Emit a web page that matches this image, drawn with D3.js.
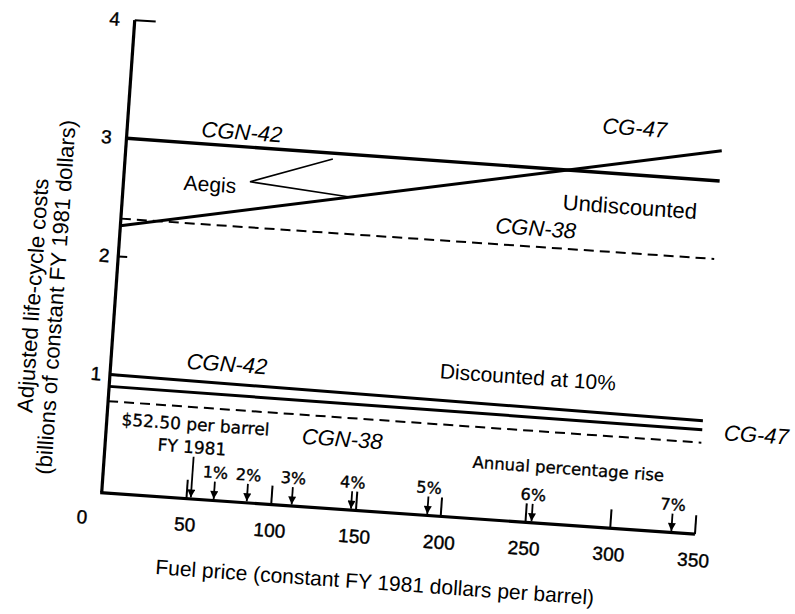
<!DOCTYPE html>
<html>
<head>
<meta charset="utf-8">
<script src="https://cdn.jsdelivr.net/npm/d3@7"></script>
<style>
  html, body { margin: 0; padding: 0; background: #fff; }
  svg { display: block; }
</style>
</head>
<body>
<svg id="chart" width="795" height="614"></svg>
<script>
// ---------- data ----------
const fuelPrice   = [0, 350];
const undiscCGN42 = [3.00, 2.99];
const undiscCG47  = [2.26, 3.245];
const undiscCGN38 = [2.32, 2.33];
const discCGN42   = [1.00, 0.96];
const discCG47    = [0.90, 0.885];
const discCGN38   = [0.775, 0.775];

const xTicks = [50, 100, 150, 200, 250, 300, 350];
const xTickLabels = ["50", "100", "150", "200", "250", "300", "350"];
const yTicks = [1, 2, 3, 4];
const yTickLabels = ["1", "2", "3", "4"];

const baseFuelPrice = 52.5;
const riseRates  = ["1%", "2%", "3%", "4%", "5%", "6%", "7%"];
const risePrices = [66, 85.5, 112, 147, 192, 253.5, 336];

// label anchors in data coordinates [fuel price, cost]
const curveLabels = [
  { text: "CGN-42", x: 67.5,  y: 3.12,  italic: true,  size: 22 },
  { text: "CG-47",  x: 298,   y: 3.386, italic: true,  size: 22 },
  { text: "CGN-38", x: 244,   y: 2.483, italic: true,  size: 22 },
  { text: "CGN-42", x: 68.3,  y: 1.158, italic: true,  size: 22 },
  { text: "CG-47",  x: 382,   y: 0.872, italic: true,  size: 22 },
  { text: "CGN-38", x: 139,   y: 0.594, italic: true,  size: 22 },
  { text: "Aegis",  x: 50.9,  y: 2.664, italic: false, size: 21 },
  { text: "Undiscounted", x: 298.4, y: 2.718, italic: false, size: 22 },
  { text: "Discounted at 10%", x: 245.5, y: 1.226, italic: false, size: 21 }
];
const aegisPointer = [[122, 2.947], [74.3, 2.707], [132.5, 2.638]];

// ---------- layout ----------
const svg = d3.select("#chart");
const originX = 101.7, originY = 492.7, tilt = 4;
const g = svg.append("g")
  .attr("transform", `translate(${originX},${originY}) rotate(${tilt})`);

const x = d3.scaleLinear().domain([0, 350]).range([0, 594.7]);
const y = d3.scaleLinear().domain([0, 4]).range([0, -473.7]);

const defs = svg.append("defs");
defs.append("marker")
  .attr("id", "head")
  .attr("viewBox", "0 0 10 10")
  .attr("refX", 10).attr("refY", 5)
  .attr("markerWidth", 9).attr("markerHeight", 8)
  .attr("markerUnits", "userSpaceOnUse")
  .attr("orient", "auto")
  .append("path").attr("d", "M0,0 L10,5 L0,10 Z").attr("fill", "#000");

const ink = "#000";
const sans = "Liberation Sans, Arial, sans-serif";
const smallFont = "DejaVu Sans, sans-serif";

// axes
g.append("line").attr("x1", 0).attr("y1", y(0)).attr("x2", 0).attr("y2", y(4))
  .attr("stroke", ink).attr("stroke-width", 3.2);
g.append("line").attr("x1", -1.5).attr("y1", y(0)).attr("x2", x(350)).attr("y2", y(0))
  .attr("stroke", ink).attr("stroke-width", 3.2);

// y ticks (inward)
g.selectAll(".ytick").data(yTicks).join("line")
  .attr("x1", 0).attr("x2", d => d === 4 ? 21 : 9)
  .attr("y1", d => y(d)).attr("y2", d => y(d))
  .attr("stroke", ink).attr("stroke-width", 2);

g.selectAll(".ylab").data(yTicks).join("text")
  .attr("x", d => d >= 3 ? -20 : -14).attr("y", d => y(d))
  .attr("text-anchor", "middle").attr("dominant-baseline", "central")
  .attr("font-family", sans)
  .attr("font-size", 19).attr("stroke", ink).attr("stroke-width", 0.4)
  .text((d, i) => yTickLabels[i]);

g.append("text").attr("x", x(-10.6)).attr("y", y(-0.216))
  .attr("text-anchor", "middle").attr("dominant-baseline", "central")
  .attr("font-family", sans)
  .attr("font-size", 19).attr("stroke", ink).attr("stroke-width", 0.4)
  .text("0");

// x ticks (inward, upward)
g.selectAll(".xtick").data(xTicks).join("line")
  .attr("x1", d => x(d)).attr("x2", d => x(d))
  .attr("y1", y(0)).attr("y2", y(0.16))
  .attr("stroke", ink).attr("stroke-width", 2);

g.selectAll(".xlab").data(xTicks).join("text")
  .attr("x", d => x(d)).attr("y", 26)
  .attr("text-anchor", "middle").attr("dominant-baseline", "central")
  .attr("font-family", sans)
  .attr("font-size", 19).attr("stroke", ink).attr("stroke-width", 0.4)
  .text((d, i) => xTickLabels[i]);

// series
const line = d3.line().x(d => x(d[0])).y(d => y(d[1]));
const series = [
  { v: undiscCGN42, w: 3.4, dash: null },
  { v: undiscCG47,  w: 3.0, dash: null },
  { v: undiscCGN38, w: 2.0, dash: "10,6" },
  { v: discCGN42,   w: 3.0, dash: null },
  { v: discCG47,    w: 3.0, dash: null },
  { v: discCGN38,   w: 2.0, dash: "10,6" }
];
g.selectAll(".series").data(series).join("path")
  .attr("d", s => line(fuelPrice.map((p, i) => [p, s.v[i]])))
  .attr("fill", "none").attr("stroke", ink)
  .attr("stroke-width", s => s.w)
  .attr("stroke-dasharray", s => s.dash);

// Aegis pointer
g.append("path").attr("d", line(aegisPointer))
  .attr("fill", "none").attr("stroke", ink).attr("stroke-width", 1.6);

// curve labels
g.selectAll(".clab").data(curveLabels).join("text")
  .attr("x", d => x(d.x)).attr("y", d => y(d.y))
  .attr("text-anchor", "middle").attr("dominant-baseline", "central")
  .attr("font-family", sans)
  .attr("font-style", d => d.italic ? "italic" : "normal")
  .attr("font-size", d => d.size)
  .attr("fill", ink)
  .text(d => d.text);

// fuel price arrows
g.append("line")
  .attr("x1", x(baseFuelPrice)).attr("x2", x(baseFuelPrice))
  .attr("y1", y(0.357)).attr("y2", y(0) - 1.5)
  .attr("stroke", ink).attr("stroke-width", 1.8).attr("marker-end", "url(#head)");
g.append("text").attr("x", x(52.3)).attr("y", y(0.630))
  .attr("text-anchor", "middle").attr("dominant-baseline", "central")
  .attr("font-family", smallFont).attr("font-size", 17)
  .attr("stroke", ink).attr("stroke-width", 0.3)
  .text("$52.50 per barrel");
g.append("text").attr("x", x(51.1)).attr("y", y(0.438))
  .attr("text-anchor", "middle").attr("dominant-baseline", "central")
  .attr("font-family", smallFont).attr("font-size", 17)
  .attr("stroke", ink).attr("stroke-width", 0.3)
  .text("FY 1981");

g.selectAll(".rarrow").data(risePrices).join("line")
  .attr("x1", d => x(d)).attr("x2", d => x(d))
  .attr("y1", y(0.16)).attr("y2", y(0) - 1.5)
  .attr("stroke", ink).attr("stroke-width", 1.8).attr("marker-end", "url(#head)");
g.selectAll(".rlab").data(risePrices).join("text")
  .attr("x", d => x(d)).attr("y", y(0.235))
  .attr("text-anchor", "middle").attr("dominant-baseline", "central")
  .attr("font-family", smallFont).attr("font-size", 16)
  .attr("stroke", ink).attr("stroke-width", 0.4)
  .text((d, i) => riseRates[i]);
g.append("text").attr("x", x(273)).attr("y", y(0.475))
  .attr("text-anchor", "middle").attr("dominant-baseline", "central")
  .attr("font-family", smallFont).attr("font-size", 16.5)
  .attr("stroke", ink).attr("stroke-width", 0.3)
  .text("Annual percentage rise");

// axis titles
g.append("text").attr("x", x(34.6)).attr("y", 70)
  .attr("text-anchor", "start").attr("dominant-baseline", "central")
  .attr("font-family", sans).attr("font-size", 21)
  .text("Fuel price (constant FY 1981 dollars per barrel)");

const yt = g.append("g").attr("transform", `translate(${x(-42)},${y(1.62)}) rotate(-90)`);
yt.append("text").attr("x", 0).attr("y", -11)
  .attr("text-anchor", "middle").attr("dominant-baseline", "central")
  .attr("font-family", sans).attr("font-size", 22)
  .text("Adjusted life-cycle costs");
yt.append("text").attr("x", 0).attr("y", 12)
  .attr("text-anchor", "middle").attr("dominant-baseline", "central")
  .attr("font-family", sans).attr("font-size", 22)
  .text("(billions of constant FY 1981 dollars)");
</script>
</body>
</html>
